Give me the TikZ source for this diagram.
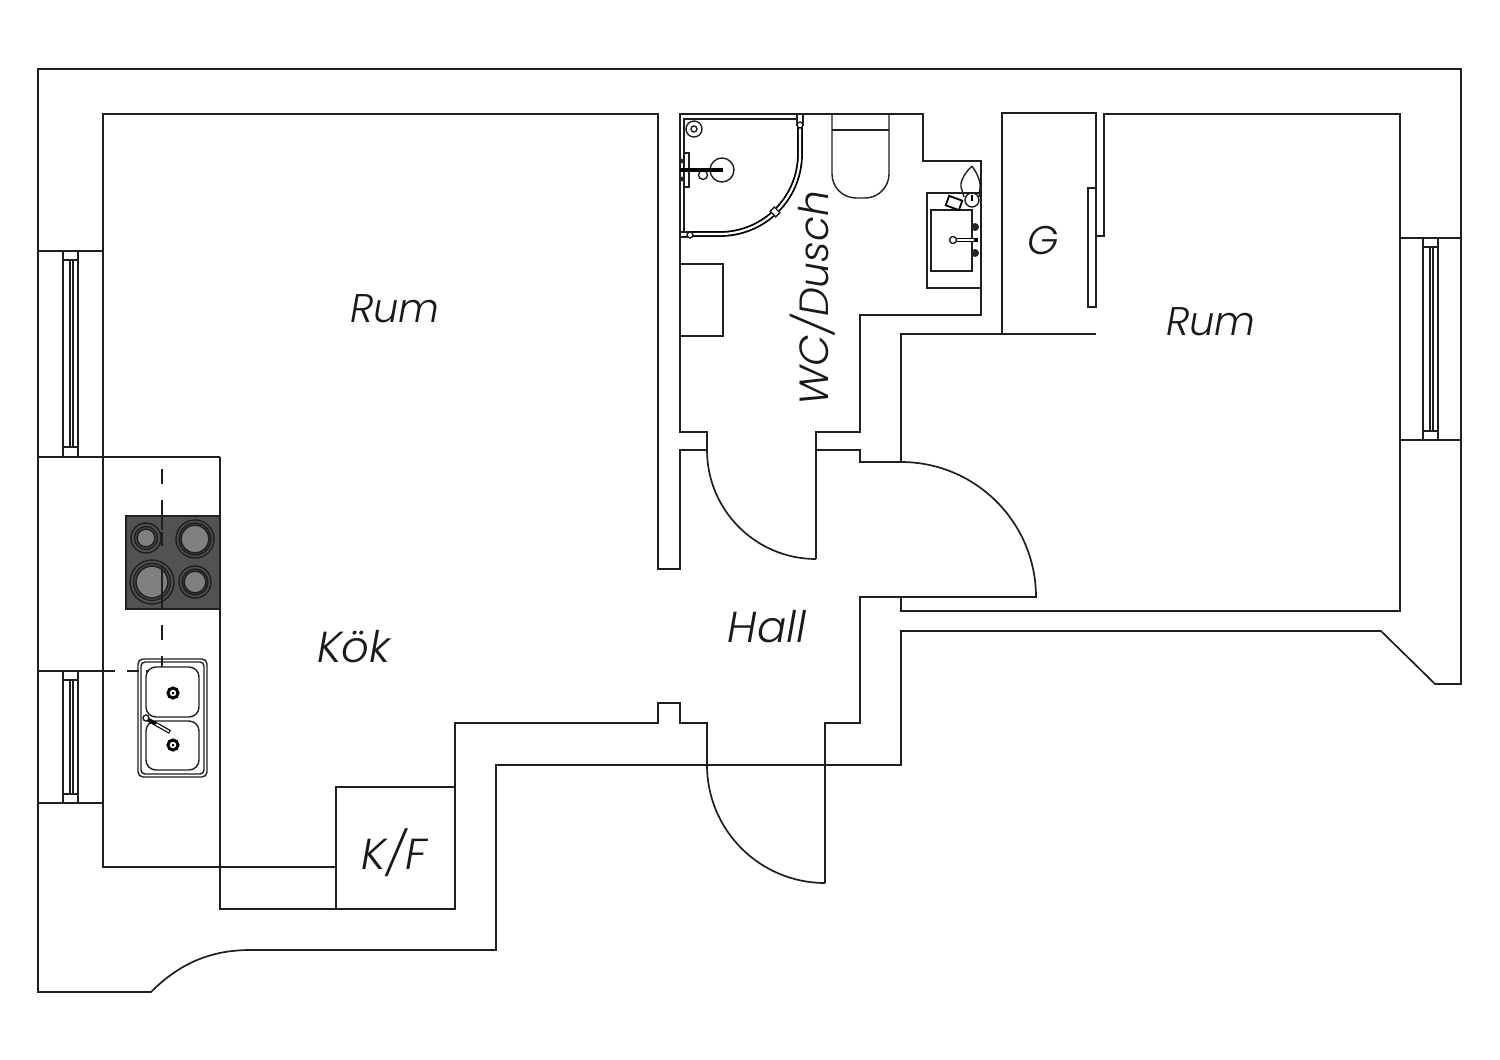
\documentclass[tikz,border=0pt]{standalone}
\usepackage{fontspec}
\setmainfont{Poppins Light}[ItalicFont={Poppins Light Italic}]
\tikzset{
wall/.style={line width=0.85pt, line join=miter, draw=black!88},
thin wall/.style={line width=0.7pt, draw=black!88},
roomlabel/.style={font=\itshape\fontsize{20}{20}\selectfont, inner sep=0pt, text=black!90},
widelabel/.style={roomlabel, font=\itshape\fontsize{21.7}{21.7}\selectfont},
pics/window/.style={code={
  \draw[thin wall] (0,0) -- (0,#1) (15,0) -- (15,#1);
  \draw[thin wall] (0,9) -- (15,9) (0,#1-9) -- (15,#1-9);
  \draw[thin wall] (7,9) -- (7,#1-9) (10,9) -- (10,#1-9);
  }}
}
\begin{document}
\begin{tikzpicture}[x=0.5pt, y=-0.5pt]
  \useasboundingbox (0,0) rectangle (1500,1060);
  \draw[wall] (38,69) -- (1461,69) -- (1461,684) -- (1435,684) -- (1381,631) -- (901,631) -- (901,765) -- (496,765) -- (496,950) -- (250,950) .. controls (205,950) and (175,968) .. (151,992) -- (38,992) -- cycle;
  \draw[wall] (103,251) -- (103,867) -- (336,867);
  \draw[wall] (220,457) -- (220,909) -- (455,909) -- (455,723) -- (658,723) -- (658,703) -- (680,703) -- (680,723) -- (707,723) -- (707,765);
  \draw[wall] (103,251) -- (103,114) -- (658,114) -- (658,569) -- (680,569) -- (680,450) -- (707,450) -- (707,432) -- (680,432) -- (680,114) -- (923,114) -- (923,161) -- (981,161) -- (981,315) -- (860,315) -- (860,432) -- (816,432) -- (816,559);
  \draw[wall] (707,450) arc [start angle=180, end angle=90, radius=109];
  \draw[wall] (816,450) -- (860,450) -- (860,462) -- (901,462) arc [start angle=-90, end angle=0, radius=135] -- (860,597) -- (860,723) -- (825,723) -- (825,883);
  \draw[wall] (707,765) arc [start angle=180, end angle=90, radius=118];
  \draw[wall] (901,462) -- (901,334) -- (1002,334) -- (1002,113) -- (1096,113) -- (1096,188);
  \draw[wall] (1002,334) -- (1096,334);
  \draw[wall] (1088,188) rectangle (1096,307);
  \draw[wall] (1096,236) -- (1104,236) -- (1104,114) -- (1400,114) -- (1400,611) -- (901,611) -- (901,597);
  \draw[wall] (336,909) -- (336,787) -- (455,787);
  \draw[wall] (38,251) -- (103,251) (38,457) -- (220,457) (38,803) -- (103,803) (1400,238) -- (1461,238) (1400,440) -- (1461,440);
  \draw[wall] (38,671) -- (115,671) (127,671) -- (139,671);
  \pic at (63,251) {window=205};
  \pic at (63,671) {window=132};
  \pic at (1423,238) {window=202};

  \fill[black!68] (126,516) rectangle (220,609);
  \draw[thin wall] (126,516) rectangle (220,609);
  \foreach \cx/\cy/\rin/\rout in {146/538/8/15, 195/539/13/19, 152/582/15/22, 195/582/10/16} {
    \fill[black!50] (\cx,\cy) circle [radius=\rin];
    \draw[thin wall] (\cx,\cy) circle [radius=\rin+1] (\cx,\cy) circle [radius=(\rin+\rout)/2] (\cx,\cy) circle [radius=\rout];
  }
  \draw[wall] (162,469) -- (162,484) (162,500) -- (162,516) (162,625) -- (162,640);
  \draw[thin wall] (162,516) -- (162,530) (162,532) -- (162,546) (162,565) -- (162,609);
  \draw[wall, rounded corners=3pt] (162,656) -- (162,671) -- (146,671);

  \draw[thin wall, rounded corners=2.5pt] (138,659) rectangle (207,777);
  \draw[thin wall, rounded corners=2pt] (141,662) rectangle (204,774);
  \draw[thin wall, rounded corners=5pt, fill=white] (146,667) rectangle (199,717);
  \draw[thin wall, rounded corners=5pt, fill=white] (146,721) rectangle (199,770);
  \foreach \cy in {693,745} {
    \draw[line width=1.5pt] (173,\cy) circle [radius=5];
    \fill (173,\cy) circle [radius=1.5];
  }
  \draw[line width=2pt] (147,719) -- (170,732);
  \draw[white, line width=0.8pt] (156,724) -- (169,731.5);
  \draw[thin wall, fill=white] (146,718) circle [radius=3];

  \draw[thin wall] (684,233) -- (684,119) -- (797,119);
  \draw[line width=0.9pt, double, double distance=1.1pt] (800,125) -- (800,154) arc [start angle=0, end angle=90, radius=80] -- (690,234);
  \draw[thin wall, fill=white] (797,114) rectangle (803,125) (680,232) rectangle (690,237);
  \draw[thin wall, fill=white] (800,125) circle [radius=3] (690,235) circle [radius=3];
  \draw[thin wall, fill=white, rotate around={-45:(775,212)}] (771,209) rectangle (779,215);
  \draw[thin wall] (694,129) circle [radius=8] (694,129) circle [radius=3];
  \draw[thin wall] (722,170) circle [radius=12];
  \draw[thin wall, fill=white] (703,175) circle [radius=4.5];
  \draw[thin wall, fill=white] (684,153) rectangle (689,187);
  \draw[thin wall] (680,158) -- (684,164) (680,164) -- (684,158) (680,176) -- (684,182) (680,182) -- (684,176);
  \draw[line width=1.7pt] (680,170) -- (723,170);

  \draw[wall] (680,264) -- (723,264) -- (723,336) -- (680,336);
  \draw[thin wall, rounded corners=12pt] (832,114) -- (832,198) -- (889,198) -- (889,114);
  \draw[thin wall] (832,130) -- (889,130);

  \draw[thin wall] (979,193) -- (927,193) -- (927,288) -- (981,288);
  \draw[thin wall] (931,210) rectangle (972,271);
  \fill[black!85] (975,227) circle [radius=4] (975,253) circle [radius=4];
  \draw[line width=1.8pt] (953,240) -- (978,240);
  \draw[white, line width=0.8pt] (956,240) -- (974,240);
  \draw[thin wall, fill=white] (953,240) circle [radius=3.5];
  \draw[thin wall] (972,166) .. controls (966,172) and (960,180) .. (961,187) -- (964,197) (972,166) .. controls (976,172) and (981,180) .. (980,188) -- (979,197);
  \draw[line width=0.9pt, fill=white, rotate around={-20:(954,203)}] (947,198) rectangle (961,208);
  \draw[thin wall, fill=white] (972,200) circle [radius=7];
  \draw[line width=0.9pt] (972,195) -- (972,201);

  \node[roomlabel] (rumleft) at (395,309) {Rum};
  \node[roomlabel] (rumright) at (1211,322) {Rum};
  \node[widelabel] (kok) at (354,647) {Kök};
  \node[widelabel] (hall) at (767,627) {Hall};
  \node[widelabel] (kf) at (394,853) {K/F};
  \node[roomlabel] (gard) at (1043,240) {G};
  \node[roomlabel, rotate=90, font=\itshape\fontsize{20.4}{20.4}\selectfont] (wc) at (813,298) {WC/Dusch};
\end{tikzpicture}
\end{document}
